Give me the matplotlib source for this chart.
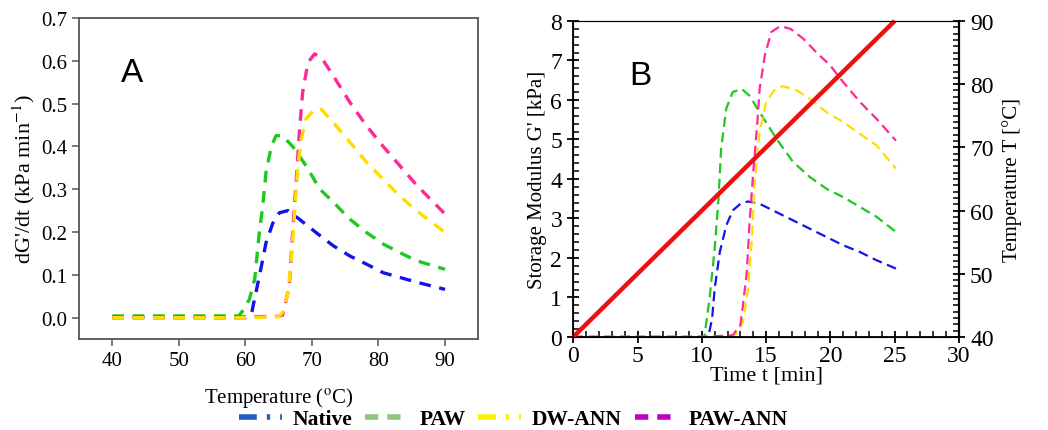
import matplotlib.pyplot as plt
from matplotlib.lines import Line2D
from matplotlib.ticker import MultipleLocator

plt.rcParams['font.family'] = ['Liberation Serif', 'DejaVu Serif']
plt.rcParams['mathtext.fontset'] = 'stix'

# panel A: dG'/dt vs temperature
tA_native = [40, 50, 60, 60.9, 61.6, 62.4, 63.1, 64.1, 65.1, 66.4, 68.1, 70.6, 73.2, 75.7, 78.2, 80.7, 83.2, 85.7, 90]
gA_native = [0.0, 0.0, 0.0, 0.008, 0.06, 0.12, 0.175, 0.22, 0.245, 0.25, 0.23, 0.199, 0.168, 0.144, 0.125, 0.105, 0.094, 0.083, 0.066]

tA_paw = [40, 50, 59, 59.8, 60.6, 61.4, 62.1, 62.6, 63.1, 63.9, 64.6, 65.6, 67.1, 69.1, 71.2, 73.2, 75.7, 78.2, 80.7, 83.2, 85.7, 90]
gA_paw = [0.004, 0.004, 0.004, 0.02, 0.043, 0.09, 0.2, 0.26, 0.34, 0.40, 0.425, 0.425, 0.40, 0.355, 0.30, 0.27, 0.23, 0.199, 0.172, 0.152, 0.133, 0.113]

tA_dw = [40, 50, 60, 65.0, 65.6, 66.4, 66.9, 67.4, 67.9, 68.4, 69.1, 70.4, 71.4, 73.2, 75.7, 78.2, 80.7, 83.2, 85.7, 90]
gA_dw = [0.0, 0.0, 0.0, 0.002, 0.012, 0.058, 0.136, 0.245, 0.355, 0.417, 0.464, 0.487, 0.487, 0.456, 0.41, 0.363, 0.323, 0.284, 0.25, 0.199]

tA_pawann = [40, 50, 60, 65.0, 65.6, 66.6, 67.1, 67.6, 68.1, 68.6, 69.4, 70.4, 71.4, 73.2, 75.7, 78.2, 80.7, 83.2, 85.7, 90]
gA_pawann = [0.002, 0.002, 0.002, 0.003, 0.006, 0.074, 0.2, 0.31, 0.43, 0.526, 0.596, 0.616, 0.608, 0.565, 0.503, 0.448, 0.40, 0.355, 0.31, 0.242]

# panel B: storage modulus vs time
tB_native = [0, 5, 10, 10.5, 10.8, 11.0, 11.4, 11.9, 12.4, 13.0, 13.6, 14.5, 15.8, 17.1, 18.4, 19.7, 21.0, 22.3, 23.6, 25.1]
gB_native = [0, 0, 0, 0.0, 0.46, 1.22, 2.15, 2.82, 3.2, 3.37, 3.43, 3.37, 3.16, 2.95, 2.74, 2.53, 2.32, 2.15, 1.94, 1.73]

tB_paw = [0, 5, 10, 10.2, 10.6, 11.0, 11.3, 11.5, 11.9, 12.4, 13.1, 13.7, 14.5, 15.8, 17.1, 18.4, 19.7, 21.0, 22.3, 23.6, 25.1]
gB_paw = [0, 0, 0, 0.0, 0.97, 2.23, 3.5, 4.76, 5.78, 6.2, 6.28, 6.11, 5.69, 5.02, 4.43, 4.05, 3.75, 3.54, 3.29, 3.04, 2.66]

tB_dw = [0, 5, 10, 12.2, 12.7, 13.2, 13.6, 13.9, 14.1, 14.5, 15.0, 15.6, 16.3, 17.4, 18.4, 19.7, 21.0, 22.3, 23.6, 25.1]
gB_dw = [0, 0, 0, 0.0, 0.08, 0.38, 1.22, 2.49, 3.92, 5.19, 5.94, 6.24, 6.35, 6.24, 6.03, 5.69, 5.44, 5.14, 4.85, 4.26]

tB_pawann = [0, 5, 10, 12.4, 13.0, 13.2, 13.5, 13.7, 14.0, 14.3, 14.5, 14.9, 15.4, 16.1, 16.9, 17.9, 18.9, 20.0, 21.0, 22.3, 23.6, 25.1]
gB_pawann = [0, 0, 0, 0.04, 0.3, 0.8, 1.64, 2.82, 4.17, 5.35, 6.28, 7.12, 7.72, 7.87, 7.8, 7.55, 7.21, 6.87, 6.45, 5.95, 5.52, 4.97]

# temperature ramp (right axis)
t_ramp = [0, 25]
T_ramp = [40, 90]

blue = '#1414e6'
green = '#1ec81e'
yellow = '#ffdd00'
pink = '#ff2896'
red = '#ee1010'

fig = plt.figure(figsize=(10.48, 4.31), dpi=100)

# ---- panel A
axA = fig.add_axes([0.0754, 0.211, 0.381, 0.745])
dA = (3.5, 2.6)
axA.plot(tA_native, gA_native, color=blue, lw=2.4, dashes=dA)
axA.plot(tA_paw, gA_paw, color=green, lw=2.4, dashes=dA)
axA.plot(tA_pawann, gA_pawann, color=pink, lw=2.4, dashes=dA)
axA.plot(tA_dw, gA_dw, color=yellow, lw=2.4, dashes=dA)
axA.set_xlim(35, 95)
axA.set_ylim(-0.05, 0.7)
axA.set_xticks([40, 50, 60, 70, 80, 90])
axA.set_yticks([0, 0.1, 0.2, 0.3, 0.4, 0.5, 0.6, 0.7])
axA.set_yticklabels(['0.0', '0.1', '0.2', '0.3', '0.4', '0.5', '0.6', '0.7'])
for s in axA.spines.values():
    s.set_color('#555555')
    s.set_linewidth(1.3)
axA.tick_params(direction='out', length=5, width=1.1, color='#555555', labelsize=15)
axA.set_xlabel('Temperature ($^{\\mathrm{o}}$C)', fontsize=15, labelpad=11)
axA.set_ylabel("dG'/dt (kPa min$^{-1}$)", fontsize=16, labelpad=3)
axA.text(0.133, 0.83, 'A', transform=axA.transAxes, fontsize=24,
         family='Liberation Sans', ha='center', va='center')

# ---- panel B
axB = fig.add_axes([0.547, 0.216, 0.368, 0.733])
dB = (4.5, 2.5)
axB.plot(tB_native, gB_native, color=blue, lw=1.6, dashes=dB)
axB.plot(tB_paw, gB_paw, color=green, lw=1.6, dashes=dB)
axB.plot(tB_dw, gB_dw, color=yellow, lw=1.6, dashes=dB)
axB.plot(tB_pawann, gB_pawann, color=pink, lw=1.6, dashes=dB)
axB.set_xlim(0, 30)
axB.set_ylim(0, 8)
axB.xaxis.set_major_locator(MultipleLocator(5))
axB.xaxis.set_minor_locator(MultipleLocator(1))
axB.yaxis.set_major_locator(MultipleLocator(1))
axB.yaxis.set_minor_locator(MultipleLocator(0.2))
axB.tick_params(which='major', direction='inout', length=9, width=1.3, labelsize=17)
axB.tick_params(which='minor', direction='in', length=4, width=1.1)
axB.tick_params(axis='x', pad=1)
for s in axB.spines.values():
    s.set_linewidth(1.3)
axB.spines['top'].set_linewidth(0.8)
axB.set_xlabel('Time t [min]', fontsize=16, labelpad=0)
axB.set_ylabel("Storage Modulus G' [kPa]", fontsize=15, labelpad=2)
axB.text(0.174, 0.826, 'B', transform=axB.transAxes, fontsize=24,
         family='Liberation Sans', ha='center', va='center')

axT = axB.twinx()
axT.plot(t_ramp, T_ramp, color=red, lw=3.2, solid_capstyle='butt', clip_on=False)
axT.set_ylim(40, 90)
axT.yaxis.set_major_locator(MultipleLocator(10))
axT.yaxis.set_minor_locator(MultipleLocator(1))
axT.tick_params(which='major', direction='inout', length=9, width=1.3, labelsize=17)
axT.tick_params(which='minor', direction='in', length=4, width=1.1)
axT.set_ylabel('Temperature T [°C]', fontsize=15, labelpad=6)
axT.spines['right'].set_linewidth(1.6)

# ---- shared legend
handles = [
    Line2D([], [], color='#1f5cc8', lw=4, dashes=(3.2, 1.8, 0.6, 1.8)),
    Line2D([], [], color='#93c47d', lw=4, dashes=(2.4, 1.6)),
    Line2D([], [], color='#ffee00', lw=4, dashes=(3.2, 1.8, 0.6, 1.8)),
    Line2D([], [], color='#c000c0', lw=4, dashes=(2.4, 1.6)),
]
labels = ['Native', 'PAW', 'DW-ANN', 'PAW-ANN']
fig.legend(handles, labels, loc='center', bbox_to_anchor=(0.49, 0.025), ncol=4,
           frameon=False, handlelength=2.0, handletextpad=0.5, columnspacing=0.6,
           prop={'family': 'Liberation Serif', 'weight': 'bold', 'size': 15.5})

fig.savefig('out.png', dpi=100)
